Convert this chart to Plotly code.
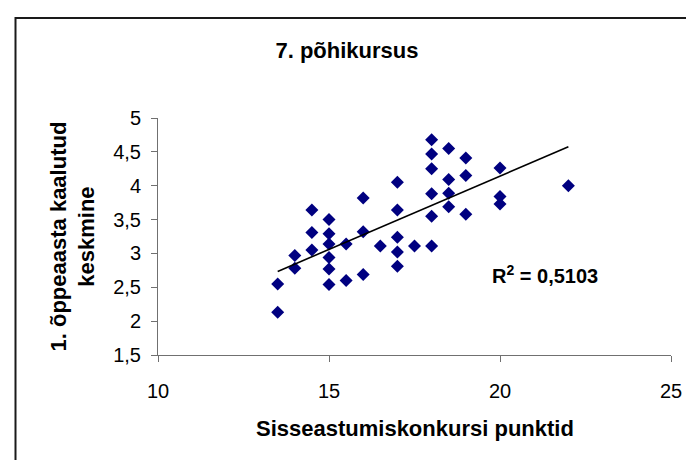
import numpy as np
import plotly.graph_objects as go

# Data
punktid = [13.5, 13.5, 14, 14, 14.5, 14.5, 14.5, 15, 15, 15, 15, 15, 15, 15.5, 15.5,
           16, 16, 16, 16.5, 17, 17, 17, 17, 17, 17.5, 18, 18, 18, 18, 18, 18,
           18.5, 18.5, 18.5, 18.5, 19, 19, 19, 20, 20, 20, 22]
keskmine = [2.55, 2.13, 2.97, 2.78, 3.64, 3.31, 3.05, 3.5, 3.29, 3.14, 2.94, 2.77, 2.54, 3.14, 2.6,
            3.82, 3.32, 2.69, 3.11, 4.05, 3.64, 3.24, 3.02, 2.81, 3.11, 3.11, 3.55, 3.88, 4.25, 4.47, 4.68,
            4.55, 4.09, 3.89, 3.69, 4.41, 4.15, 3.58, 4.26, 3.84, 3.73, 4.0]
x_ticks = [10, 15, 20, 25]
y_ticks = [1.5, 2, 2.5, 3, 3.5, 4, 4.5, 5]
y_ticklabels = ["1,5", "2", "2,5", "3", "3,5", "4", "4,5", "5"]
title_text = "7. põhikursus"
x_title = "Sisseastumiskonkursi punktid"
y_title = "1. õppeaasta kaalutud<br>keskmine"
r2_text = "R<sup>2</sup> = 0,5103"

# Linear trend line
slope, intercept = np.polyfit(punktid, keskmine, 1)
tx = [min(punktid), max(punktid)]
ty = [slope * v + intercept for v in tx]

FONT = "Liberation Sans, Arial, sans-serif"

fig = go.Figure()
fig.add_trace(go.Scatter(
    x=punktid, y=keskmine, mode="markers",
    marker=dict(symbol="diamond", size=10, color="#000080", line=dict(width=0)),
    showlegend=False, hoverinfo="x+y"))
fig.add_trace(go.Scatter(
    x=tx, y=ty, mode="lines", line=dict(color="black", width=1.6),
    showlegend=False, hoverinfo="skip"))

L, R, T, B = 150, 31, 110, 113
W, H = 694, 460
pw, ph = W - L - R, H - T - B

def px_x(p):
    return (p - L) / pw

def px_y(p):
    return (H - B - p) / ph

fig.update_layout(
    width=W, height=H,
    margin=dict(l=L, r=R, t=T, b=B),
    paper_bgcolor="white", plot_bgcolor="white",
    font=dict(family=FONT, color="black"),
    title=dict(text="<b>" + title_text + "</b>", font=dict(size=22, family=FONT),
               x=339 / W, xref="container", xanchor="center",
               y=1 - 42 / H, yref="container", yanchor="middle"),
    xaxis=dict(range=[10, 25], tickvals=x_ticks, ticktext=[str(v) for v in x_ticks],
               showgrid=False, zeroline=False, showline=True, linecolor="#707070", linewidth=1,
               ticks="outside", ticklen=6, tickcolor="#707070",
               tickfont=dict(size=20, family=FONT), ticklabelstandoff=12),
    yaxis=dict(range=[1.5, 5], tickvals=y_ticks, ticktext=y_ticklabels,
               showgrid=False, zeroline=False, showline=True, linecolor="#707070", linewidth=1,
               ticks="outside", ticklen=6, tickcolor="#707070",
               tickfont=dict(size=20, family=FONT), ticklabelstandoff=6),
    annotations=[
        dict(text="<b>" + x_title + "</b>", xref="paper", yref="paper",
             x=0.5, y=px_y(420), xanchor="center", yanchor="middle",
             showarrow=False, font=dict(size=22, family=FONT)),
        dict(text="<b>" + y_title + "</b>", xref="paper", yref="paper",
             x=px_x(64), y=0.5, xanchor="center", yanchor="middle", textangle=-90,
             showarrow=False, font=dict(size=22, family=FONT)),
        dict(text="<b>" + r2_text + "</b>", xref="paper", yref="paper",
             x=px_x(537), y=px_y(266), xanchor="center", yanchor="middle",
             showarrow=False, font=dict(size=20, family=FONT)),
    ],
    shapes=[
        dict(type="rect", xref="paper", yref="paper",
             x0=px_x(7.5), x1=px_x(720), y0=px_y(490), y1=px_y(10),
             line=dict(color="#1a1a1a", width=2), fillcolor="rgba(0,0,0,0)", layer="below"),
    ],
)

fig.write_html("out.html")
